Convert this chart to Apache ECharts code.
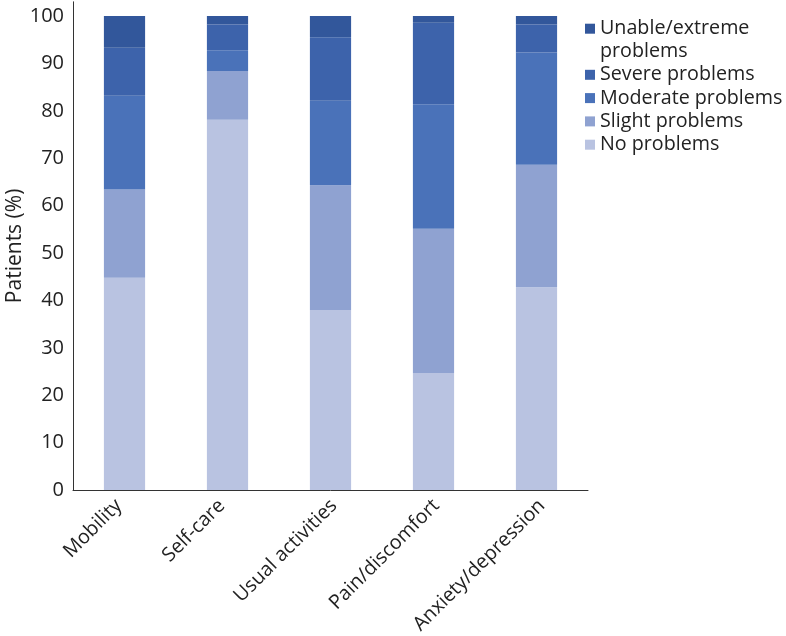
<!DOCTYPE html>
<html>
<head>
<meta charset="utf-8">
<script src="https://cdn.jsdelivr.net/npm/echarts@6/dist/echarts.min.js"></script>
<style>html,body{margin:0;padding:0;background:#fff;}#c{width:786px;height:636px;}</style>
</head>
<body>
<div id="c"></div>
<script>
const categories = ['Mobility', 'Self-care', 'Usual activities', 'Pain/discomfort', 'Anxiety/depression'];
const noProblems = [44.8, 78.1, 38.0, 24.7, 42.8];
const slightProblems = [18.6, 10.3, 26.3, 30.4, 25.8];
const moderateProblems = [19.8, 4.4, 17.8, 26.3, 23.7];
const severeProblems = [10.1, 5.4, 13.4, 17.2, 5.9];
const unableProblems = [6.7, 1.8, 4.5, 1.4, 1.8];
const seriesNames = ['No problems', 'Slight problems', 'Moderate problems', 'Severe problems', 'Unable/extreme problems'];
const seriesColors = ['#b9c3e1', '#8fa2d1', '#4a72b9', '#3d63ab', '#32579b'];
const yTicks = [0, 10, 20, 30, 40, 50, 60, 70, 80, 90, 100];

const seriesData = [noProblems, slightProblems, moderateProblems, severeProblems, unableProblems];
const FONT = '"Open Sans", "Noto Sans", sans-serif';

// per-label placement tweaks (style only)
const labelPads = [[0, 8, 0, 0], [0, 8, 0, 0], [12.7, 1.6, 0, 0], [12, 2, 0, 0], [15.6, 0.2, 0, 0]];
const richStyles = {};
labelPads.forEach(function (p, i) {
  richStyles['l' + i] = { padding: p, fontSize: 19.7, color: '#222', fontFamily: FONT };
});

const chart = echarts.init(document.getElementById('c'));
chart.setOption({
  animation: false,
  textStyle: { fontFamily: FONT },
  grid: { left: 73, right: 198, top: 1.8, bottom: 146, containLabel: false, outerBoundsMode: 'none' },
  legend: {
    orient: 'vertical',
    left: 580,
    top: -10.5,
    itemWidth: 10,
    itemHeight: 10,
    itemGap: 0.5,
    itemTextGap: 7,
    icon: 'rect',
    data: seriesNames.slice().reverse(),
    formatter: function (name) {
      return name === 'Unable/extreme problems' ? '\nUnable/extreme\nproblems' : name;
    },
    textStyle: { fontSize: 19.7, color: '#222', lineHeight: 22.8, fontFamily: FONT }
  },
  xAxis: {
    type: 'category',
    data: categories,
    axisLine: { lineStyle: { color: '#333', width: 1 } },
    axisTick: { show: false },
    axisLabel: {
      rotate: 45, fontSize: 19.7, color: '#222', margin: 7, interval: 0, fontFamily: FONT,
      formatter: function (value, index) { return '{l' + index + '|' + value + '}'; },
      rich: richStyles
    }
  },
  yAxis: {
    type: 'value',
    min: 0,
    max: 103,
    interval: 10,
    name: 'Patients (%)',
    nameLocation: 'middle',
    nameGap: 47,
    nameMoveOverlap: false,
    nameTextStyle: { fontSize: 21, color: '#222', fontFamily: FONT },
    axisLine: { show: true, lineStyle: { color: '#333', width: 1 } },
    axisTick: { show: false },
    splitLine: { show: false },
    axisLabel: {
      fontSize: 20, color: '#222', margin: 9, fontFamily: FONT, showMaxLabel: false,
      formatter: function (v) { return yTicks.indexOf(v) >= 0 ? String(v) : ''; }
    }
  },
  series: seriesNames.map(function (n, i) {
    return {
      name: n,
      type: 'bar',
      stack: 'total',
      barWidth: '40%',
      data: seriesData[i],
      itemStyle: { color: seriesColors[i] }
    };
  })
});
</script>
</body>
</html>
